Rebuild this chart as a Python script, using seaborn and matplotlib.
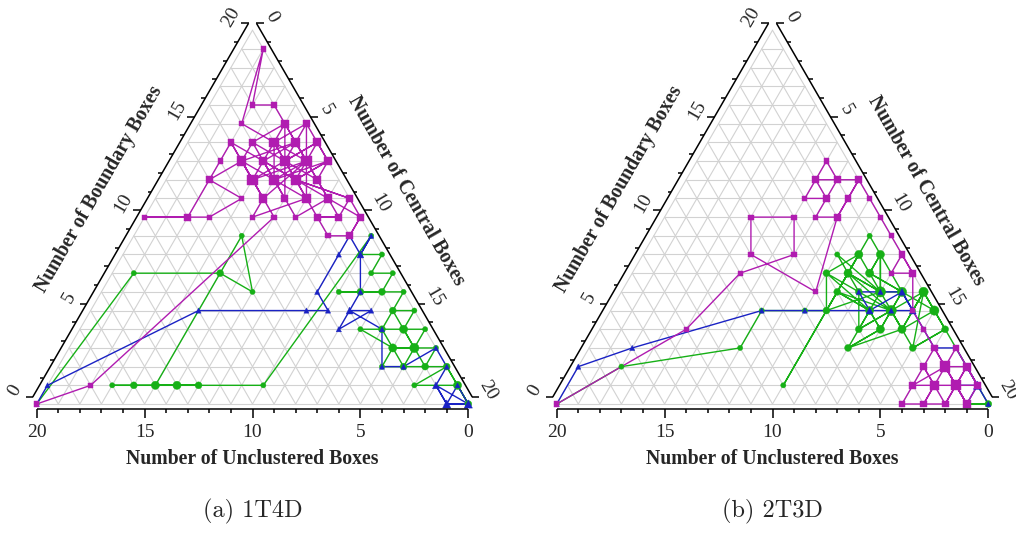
import numpy as np
import matplotlib
matplotlib.use('Agg')
import matplotlib.pyplot as plt
import seaborn as sns
import pandas as pd
from collections import Counter

sns.set_style('white')
plt.rcParams['font.family'] = ['Liberation Serif', 'DejaVu Serif']

# each run is a list of visited states as (boundary boxes, central boxes);
# unclustered boxes = 20 - boundary - central
a_magenta = [(0, 0), (1, 2), (10, 6), (11, 5), (12, 4), (13, 3), (14, 2), (13, 2), (12, 2), (10, 2),
             (10, 0), (10, 2), (10, 3), (11, 4), (12, 2), (13, 3), (14, 3), (13, 5), (15, 4), (16, 3),
             (16, 2), (19, 1), (15, 2), (14, 4), (13, 6), (14, 5), (15, 5), (14, 6), (13, 7), (12, 6),
             (13, 4), (12, 5), (11, 6), (10, 7), (11, 8), (12, 7), (13, 5), (14, 4), (12, 5), (13, 6),
             (11, 7), (10, 5), (11, 5), (12, 4), (13, 3), (14, 5), (13, 4), (12, 6), (11, 9), (10, 9),
             (10, 8), (11, 7), (12, 5), (14, 3), (15, 4), (13, 6), (12, 7), (13, 7), (14, 6), (13, 5),
             (12, 6), (11, 8), (10, 10), (9, 10), (9, 9), (10, 8), (10, 9), (11, 8), (12, 7), (14, 5),
             (13, 6), (12, 4), (14, 4), (13, 5), (11, 6), (12, 5), (13, 4), (14, 2), (12, 4), (13, 5),
             (12, 6), (13, 7), (12, 5), (13, 3), (12, 4), (11, 5), (13, 6), (15, 5), (14, 4), (15, 4),
             (14, 5), (13, 5), (14, 6), (12, 6), (11, 7), (12, 6), (11, 9), (10, 10), (9, 10)]
a_blue = [(0, 0), (1, 0), (5, 5), (5, 10), (5, 11), (6, 10), (8, 10), (9, 10), (8, 11), (9, 11),
          (8, 11), (6, 12), (5, 12), (5, 13), (4, 12), (5, 12), (4, 14), (2, 15), (2, 16), (3, 17),
          (2, 18), (1, 18), (0, 19), (0, 20), (1, 18), (0, 19), (1, 19), (0, 20), (0, 19), (0, 20)]
a_green = [(0, 0), (7, 1), (7, 5), (9, 5), (6, 7), (7, 5), (1, 5), (1, 4), (1, 3), (1, 4),
           (1, 5), (1, 6), (1, 7), (1, 6), (1, 5), (1, 6), (1, 7), (1, 10), (9, 11), (8, 11),
           (8, 12), (7, 12), (7, 13), (6, 13), (6, 12), (6, 11), (6, 12), (6, 13), (6, 14), (5, 14),
           (5, 15), (4, 15), (4, 14), (4, 13), (3, 15), (4, 14), (5, 14), (4, 15), (4, 16), (3, 16),
           (3, 15), (2, 15), (2, 16), (3, 16), (4, 15), (3, 16), (3, 17), (2, 17), (2, 16), (3, 15),
           (3, 16), (2, 17), (2, 18), (1, 17), (1, 19), (0, 20), (1, 19), (2, 18), (1, 19), (0, 20)]

b_magenta = [(0, 0), (4, 4), (7, 5), (8, 7), (10, 6), (10, 4), (8, 5), (6, 9), (10, 8), (10, 7),
             (11, 7), (12, 6), (13, 6), (12, 7), (12, 6), (11, 6), (11, 7), (12, 7), (12, 8), (11, 8),
             (10, 8), (11, 8), (12, 8), (11, 9), (10, 10), (9, 11), (8, 12), (7, 12), (7, 13), (8, 12),
             (7, 13), (5, 14), (4, 15), (3, 16), (2, 16), (1, 16), (0, 16), (0, 17), (1, 17), (2, 17),
             (3, 17), (2, 18), (1, 18), (0, 18), (1, 17), (2, 16), (1, 17), (1, 18), (2, 17), (1, 18),
             (0, 19), (1, 18), (2, 17), (2, 18), (1, 19), (1, 18), (0, 18), (0, 17), (1, 17), (1, 16),
             (2, 17), (3, 16), (2, 17), (1, 18), (0, 19), (1, 19), (2, 18), (1, 18), (0, 19)]
b_blue = [(0, 0), (2, 0), (3, 2), (5, 7), (5, 9), (5, 12), (5, 13), (5, 14), (6, 13), (6, 12),
          (6, 11), (5, 12), (6, 13), (5, 14), (4, 15), (3, 16), (3, 17), (2, 18), (1, 19), (2, 18),
          (1, 19), (1, 18), (0, 19), (1, 19), (0, 20)]
b_green = [(0, 0), (2, 2), (3, 7), (5, 7), (5, 9), (5, 10), (7, 9), (8, 10), (9, 10), (8, 11),
           (7, 11), (6, 12), (8, 9), (7, 10), (1, 10), (8, 10), (6, 10), (5, 12), (3, 12), (4, 13),
           (5, 13), (6, 12), (8, 11), (7, 11), (6, 13), (5, 13), (4, 14), (6, 14), (5, 15), (4, 16),
           (3, 15), (5, 13), (4, 12), (6, 11), (7, 10), (6, 12), (6, 13), (5, 15), (6, 14), (5, 13),
           (7, 10), (6, 12), (5, 10), (8, 10), (7, 11), (6, 13), (4, 13), (5, 12), (7, 9), (6, 11),
           (5, 13), (4, 12), (6, 12), (8, 11), (6, 13), (5, 14), (6, 14), (4, 14), (5, 13), (6, 10),
           (5, 12), (4, 13), (3, 12), (4, 14), (5, 15), (6, 14), (3, 15), (4, 16), (5, 15), (3, 17),
           (2, 18), (1, 19), (0, 20), (0, 19), (0, 20)]

captions = ['(a) 1T4D', '(b) 2T3D']
major_ticks = [0, 5, 10, 15, 20]

colors = {'magenta': '#b01cb0', 'blue': '#1a22c4', 'green': '#16b016'}
markers = {'magenta': 's', 'blue': '^', 'green': 'o'}

S = np.sqrt(3) / 2


def to_xy(run):
    b = np.array([p[0] for p in run], float)
    c = np.array([p[1] for p in run], float)
    return c + b / 2, b * S


def draw_frame(ax, caption):
    grey = '#d2d2d2'
    for k in range(20):
        ax.plot([k / 2, 20 - k / 2], [k * S, k * S], color=grey, lw=0.8, zorder=1)
        ax.plot([k, 10 + k / 2], [0, (20 - k) * S], color=grey, lw=0.8, zorder=1)
        ax.plot([20 - k, (20 - k) / 2], [0, (20 - k) * S], color=grey, lw=0.8, zorder=1)

    kw = dict(color='black', lw=1.1, solid_capstyle='butt', clip_on=False, zorder=5)
    tick_font = dict(fontsize=14, ha='center', va='center')
    # left axis (boundary)
    dl = np.array([-0.185, 0.32])
    ax.plot([dl[0], 10 + dl[0]], [dl[1], 20 * S + dl[1]], **kw)
    for k in range(21):
        p = np.array([k / 2, k * S]) + dl
        ln = 0.33 if k % 5 == 0 else 0.18
        ax.plot([p[0], p[0] - ln], [p[1], p[1]], **kw)
        if k in major_ticks:
            ax.text(p[0] - 0.82, p[1] + 0.3, str(k), rotation=60, **tick_font)
    # right axis (central)
    dr = np.array([0.185, 0.32])
    ax.plot([10 + dr[0], 20 + dr[0]], [20 * S + dr[1], dr[1]], **kw)
    for k in range(21):
        p = np.array([10 + k / 2, (20 - k) * S]) + dr
        ln = 0.33 if k % 5 == 0 else 0.18
        ax.plot([p[0], p[0] + ln], [p[1], p[1]], **kw)
        if k in major_ticks:
            ax.text(p[0] + 0.72, p[1] + 0.3, str(k), rotation=-60, **tick_font)
    # bottom axis (unclustered)
    yb = -0.25
    ax.plot([0, 20], [yb, yb], **kw)
    for k in range(21):
        x = 20 - k
        ln = 0.4 if k % 5 == 0 else 0.18
        ax.plot([x, x], [yb, yb - ln], **kw)
        if k in major_ticks:
            ax.text(x, -1.3, str(k), **tick_font)

    title_font = dict(fontsize=14.2, fontweight='bold', ha='center', va='center')
    ax.text(2.89, 9.96, 'Number of Boundary Boxes', rotation=60, **title_font)
    ax.text(17.11, 9.87, 'Number of Central Boxes', rotation=-60, **title_font)
    ax.text(10, -2.55, 'Number of Unclustered Boxes', **title_font)
    ax.text(10, -4.96, caption, fontsize=17.5, family='cmr10', ha='center', va='center')


def draw_run(ax, run, name):
    x, y = to_xy(run)
    sns.lineplot(x=x, y=y, sort=False, estimator=None, color=colors[name], lw=1.0,
                 ax=ax, zorder=3)
    counts = Counter(run)
    pts = list(counts.keys())
    px, py = to_xy(pts)
    df = pd.DataFrame({'x': px, 'y': py, 'n': [counts[p] for p in pts]})
    sns.scatterplot(data=df, x='x', y='y', size='n', sizes=(14, 55), size_norm=(1, 5),
                    marker=markers[name], color=colors[name], edgecolor=colors[name],
                    linewidth=0.3, legend=False, ax=ax, zorder=4)


fig = plt.figure(figsize=(10.16, 5.33), dpi=100)
unit = 21.58
panels = [
    (36.7, [('green', a_green), ('blue', a_blue), ('magenta', a_magenta)]),
    (556.7, [('green', b_green), ('blue', b_blue), ('magenta', b_magenta)]),
]
for (x0, runs), caption in zip(panels, captions):
    left = (x0 - 1.5 * unit) / 1016
    bottom = (533 - (404 + 2.5 * unit)) / 533
    ax = fig.add_axes([left, bottom, 23 * unit / 1016, 21 * unit / 533])
    ax.set_xlim(-1.5, 21.5)
    ax.set_ylim(-2.5, 18.5)
    ax.set_axis_off()
    draw_frame(ax, caption)
    for name, run in runs:
        draw_run(ax, run, name)

fig.savefig('out.png', dpi=100, facecolor='white')
